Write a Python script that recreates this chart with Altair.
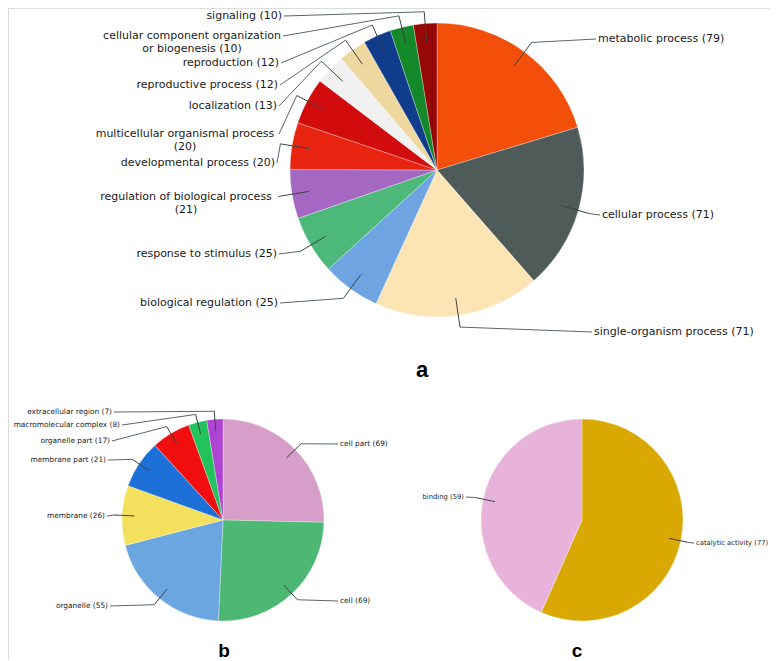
import altair as alt
import pandas as pd

# ---------------- data ----------------
a_names = ["metabolic process", "cellular process", "single-organism process",
           "biological regulation", "response to stimulus",
           "regulation of biological process", "developmental process",
           "multicellular organismal process", "localization",
           "reproductive process", "reproduction",
           "cellular component organization or biogenesis", "signaling"]
a_values = [79, 71, 71, 25, 25, 21, 20, 20, 13, 12, 12, 10, 10]
a_colors = ["#f44e0b", "#4e5b59", "#fde4b5", "#6fa4e2", "#4cb87a", "#a468c2",
            "#e8230f", "#d20c0c", "#f1f1f1", "#efd89f", "#0f3c8b", "#14892a", "#960707"]

b_names = ["cell part", "cell", "organelle", "membrane", "membrane part",
           "organelle part", "macromolecular complex", "extracellular region"]
b_values = [69, 69, 55, 26, 21, 17, 8, 7]
b_colors = ["#d69ec9", "#4cb874", "#6ba6e0", "#f3e05c", "#1d70d8", "#f00e0e",
            "#22c25c", "#b044d2"]

c_names = ["catalytic activity", "binding"]
c_values = [77, 59]
c_colors = ["#d9a802", "#e8b3db"]

# ---------------- layout (page pixels) ----------------
OFF = 8
WRAP = {"cellular component organization or biogenesis": "cellular component organization",
        "multicellular organismal process": "multicellular organismal process",
        "regulation of biological process": "regulation of biological process"}

pies = [
    dict(names=a_names, values=a_values, colors=a_colors, cx=437, cy=170, r=147, fs=11,
         ax=[596, 600, 592, 280, 279, 278, 277, 279, 279, 280, 281, 283, 284],
         ay=[39, 215, 332, 303, 254, 197, 163, 134, 106, 85, 63, 36, 16],
         centers={5: 186, 7: 185, 11: 192}),
    dict(names=b_names, values=b_values, colors=b_colors, cx=223, cy=520, r=101, fs=7.4,
         ax=[338, 338, 110, 107, 108, 112, 122, 114],
         ay=[444, 601, 606, 516, 460, 441, 425, 412],
         centers={}),
    dict(names=c_names, values=c_values, colors=c_colors, cx=582, cy=520, r=101, fs=6.8,
         ax=[694, 466],
         ay=[543, 497],
         centers={}),
]

letters = [("a", 422, 377, 22), ("b", 224, 657, 19), ("c", 577, 657, 19)]


def make_label(name, val):
    s = f"{name} ({val})"
    if name in WRAP:
        head = WRAP[name]
        s = s[:len(head)] + "\n" + s[len(head) + 1:]
    return s


layers = []
for p in pies:
    rows = []
    for i, (n, v, c) in enumerate(zip(p["names"], p["values"], p["colors"])):
        ax, ay = p["ax"][i] - OFF, p["ay"][i] - OFF
        cx = p["cx"] - OFF
        if i in p["centers"]:
            align, tx = "center", p["centers"][i] - OFF
        elif ax > cx:
            align, tx = "left", ax + 2
        else:
            align, tx = "right", ax - 2
        rows.append(dict(name=n, value=v, color=c, order=i, label=make_label(n, v),
                         anx=ax, any=ay, tx=tx, align=align,
                         cx=cx, cy=p["cy"] - OFF, r=p["r"]))
    df = pd.DataFrame(rows)

    arcs = alt.Chart(df).mark_arc(radius=p["r"], stroke="white", strokeWidth=0.3).encode(
        theta=alt.Theta("value:Q", stack="normalize"),
        order=alt.Order("order:Q"),
        color=alt.Color("color:N", scale=None),
        x=alt.value(p["cx"] - OFF),
        y=alt.value(p["cy"] - OFF),
    )
    layers.append(arcs)

    geo = alt.Chart(df).transform_joinaggregate(
        total="sum(value)"
    ).transform_window(
        cum="sum(value)", sort=[alt.SortField("order")], frame=[None, 0]
    ).transform_calculate(
        mid="2*PI*(datum.cum - datum.value/2)/datum.total"
    ).transform_calculate(
        ex="datum.cx + 1.08*datum.r*sin(datum.mid)",
        ey="datum.cy - 1.08*datum.r*cos(datum.mid)",
        ix="datum.cx + 0.88*datum.r*sin(datum.mid)",
        iy="datum.cy - 0.88*datum.r*cos(datum.mid)",
    )
    seg1 = geo.mark_rule(color="#5a6666", strokeWidth=1).encode(
        x=alt.X("anx:Q", scale=None), y=alt.Y("any:Q", scale=None),
        x2="ex:Q", y2="ey:Q")
    seg2 = geo.mark_rule(color="#3a4444", strokeWidth=1).encode(
        x=alt.X("ex:Q", scale=None), y=alt.Y("ey:Q", scale=None),
        x2="ix:Q", y2="iy:Q")
    layers += [seg1, seg2]

    for al in ["left", "right", "center"]:
        if (df["align"] == al).any():
            t = alt.Chart(df).transform_filter(f"datum.align == '{al}'").mark_text(
                align=al, baseline="middle", font="DejaVu Sans", fontSize=p["fs"],
                lineBreak="\n", lineHeight=p["fs"] * 1.2, color="#1a1a1a"
            ).encode(
                x=alt.X("tx:Q", scale=None), y=alt.Y("any:Q", scale=None),
                text="label:N")
            layers.append(t)

for s, lx, ly, fs in letters:
    layers.append(
        alt.Chart(pd.DataFrame({"t": [s]})).mark_text(
            font="Liberation Sans", fontWeight="bold", fontSize=fs,
            baseline="alphabetic", align="center", color="black"
        ).encode(x=alt.value(lx - OFF), y=alt.value(ly - OFF), text="t:N")
    )

chart = alt.layer(*layers).properties(
    width=762, height=652, padding=0,
    autosize=alt.AutoSizeParams(type="none"),
).configure_view(stroke=None).configure(background="white")

chart.save("out.html", embed_options={"renderer": "svg", "actions": False})
